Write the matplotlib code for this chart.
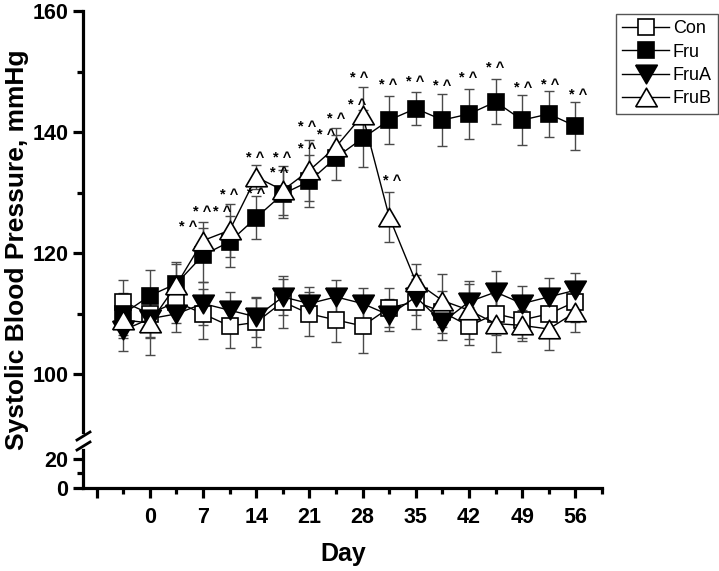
import matplotlib
matplotlib.use("Agg")
import matplotlib.pyplot as plt
from matplotlib.lines import Line2D

plt.rcParams['font.family'] = ['Liberation Sans', 'DejaVu Sans']

days = [-3.5, 0, 3.5, 7, 10.5, 14, 17.5, 21, 24.5, 28, 31.5, 35, 38.5, 42, 45.5, 49, 52.5, 56]

con = [112, 110, 112, 110, 108, 108.6, 112, 110, 109, 108, 111, 112, 110.3, 108, 110, 109, 110, 112]
con_err = [3.6, 4, 3.5, 4.1, 3.7, 4, 4.3, 3.6, 3.6, 4.5, 3.2, 4.5, 3.5, 3.2, 3.5, 3.0, 3.3, 3.3]

fru = [110, 113, 115, 119.7, 121.9, 125.9, 129.8, 131.9, 135.8, 139, 142, 143.9, 142, 143, 145, 142, 143, 141]
fru_err = [3.5, 4.3, 3.6, 4.5, 4.2, 3.6, 4, 4.3, 3.7, 4.7, 4, 2.7, 4.3, 4.2, 3.7, 4.1, 3.8, 4]

fru_a = [107.3, 109.2, 110, 111.7, 110.6, 109.5, 112.8, 111.7, 112.8, 111.7, 109.8, 112.8, 108.6, 112, 113.6, 111.7, 112.8, 113.9]
fru_a_err = [3.5, 3, 3, 3.5, 3, 3.3, 3, 2.7, 2.8, 2.6, 2.6, 3, 2.9, 3, 3.5, 2.9, 3.2, 2.9]

fru_b = [109, 108.5, 114.8, 122.1, 123.8, 132.6, 130.4, 133.7, 137.6, 142.8, 126, 115.3, 112.2, 110.6, 108.4, 108.1, 107.5, 110.3]
fru_b_err = [3, 5.3, 3.5, 3.1, 4.4, 2, 4, 5, 3.1, 4.7, 4.2, 3, 4.4, 4.8, 4.7, 2.5, 3.4, 3.3]

# significance labels "*^" (day, height)
sig_x = [5.0, 6.85, 9.5, 10.4, 14.0, 13.8, 17.4, 17.0, 20.7, 20.7, 23.2, 24.5, 27.3, 27.5,
         31.9, 31.4, 34.9, 38.5, 41.9, 45.5, 49.1, 52.7, 56.3]
sig_y = [124.3, 126.8, 126.8, 129.6, 129.8, 135.7, 135.7, 133.2, 137.2, 140.8, 139.5, 142.1, 144.5, 149,
         131.9, 147.8, 148.3, 147.6, 148.9, 150.6, 147.3, 147.8, 146.1]

x_major = [-7, 0, 7, 14, 21, 28, 35, 42, 49, 56]
x_labels = ['', '0', '7', '14', '21', '28', '35', '42', '49', '56']
x_minor = [-3.5, 3.5, 10.5, 17.5, 24.5, 31.5, 38.5, 45.5, 52.5, 59.5]

tri_up = [(-1, -0.86), (1, -0.86), (0, 0.86), (-1, -0.86)]
tri_dn = [(-1, 0.86), (1, 0.86), (0, -0.86), (-1, 0.86)]

series = [
  ("Con", con, con_err, 's', 'white', 11),
  ("Fru", fru, fru_err, 's', 'black', 11),
  ("FruA", fru_a, fru_a_err, tri_dn, 'black', 15.5),
  ("FruB", fru_b, fru_b_err, tri_up, 'white', 15.5),
]

fig = plt.figure(figsize=(7.19, 5.71), dpi=100)
left, right = 83 / 719, 602 / 719
ax = fig.add_axes([left, 1 - 432 / 571, right - left, (432 - 11) / 571])
axb = fig.add_axes([left, 1 - 488 / 571, right - left, (488 - 450) / 571])

xlim = (-8.8, 59.5)
spine_w = 2.3

handles = []
for name, vals, errs, mk, fc, ms in series:
  ax.errorbar(days, vals, yerr=errs, fmt='none', ecolor='#4a4a4a', elinewidth=1.0,
              capsize=3.5, capthick=1.0, zorder=2)
for i, (name, vals, errs, mk, fc, ms) in enumerate(series):
  h, = ax.plot(days, vals, color='black', lw=1.0, marker=mk, ms=ms, mfc=fc,
               mec='black', mew=1.2, zorder=3 + i, label=name)
  handles.append(h)

for sx, sy in zip(sig_x, sig_y):
  ax.text(sx, sy, "* ^", ha='center', va='center', fontsize=10.5, fontweight='bold', zorder=10)

ax.set_xlim(*xlim)
ax.set_ylim(90.5, 160)
ax.set_yticks([100, 120, 140, 160])
ax.set_yticks([110, 130, 150], minor=True)
ax.set_xticks([])
for s in ['top', 'right', 'bottom']:
  ax.spines[s].set_visible(False)
ax.spines['left'].set_linewidth(spine_w)
ax.tick_params(axis='y', which='major', length=7.5, width=spine_w, labelsize=15.5, pad=3)
ax.tick_params(axis='y', which='minor', length=4, width=spine_w)
ax.patch.set_alpha(0)

axb.set_xlim(*xlim)
axb.set_ylim(0, 26.2)
axb.set_yticks([0, 20])
axb.set_yticks([10], minor=True)
axb.set_xticks(x_major)
axb.set_xticklabels(x_labels)
axb.set_xticks(x_minor, minor=True)
for s in ['top', 'right']:
  axb.spines[s].set_visible(False)
for s in ['left', 'bottom']:
  axb.spines[s].set_linewidth(spine_w)
axb.tick_params(axis='both', which='major', length=7.5, width=spine_w, labelsize=15.5, pad=3)
axb.tick_params(axis='x', which='major', pad=6)
axb.tick_params(axis='both', which='minor', length=4, width=spine_w)
axb.patch.set_alpha(0)

for lab in ax.get_yticklabels() + axb.get_yticklabels() + axb.get_xticklabels():
  lab.set_fontweight('bold')

# axis break marks
for yb in (436, 446):
  fig.add_artist(Line2D([77 / 719, 90 / 719], [1 - (yb + 4) / 571, 1 - (yb - 4) / 571],
                        color='black', lw=2.0))

fig.text(17 / 719, 1 - 250 / 571, "Systolic Blood Pressure, mmHg", rotation=90,
         ha='center', va='center', fontsize=19, fontweight='bold')
fig.text(343 / 719, 1 - 554 / 571, "Day", ha='center', va='center', fontsize=18,
         fontweight='bold')

leg = fig.legend(handles=handles, loc='upper right', bbox_to_anchor=(718 / 719, 1 - 14 / 571),
                 bbox_transform=fig.transFigure, borderaxespad=0, fontsize=13,
                 handlelength=2.6, handletextpad=0.2, labelspacing=0.35, borderpad=0.35,
                 fancybox=False, framealpha=1)
leg.get_frame().set_edgecolor('#555555')
leg.get_frame().set_linewidth(1.0)

fig.savefig("out.png", dpi=100)
